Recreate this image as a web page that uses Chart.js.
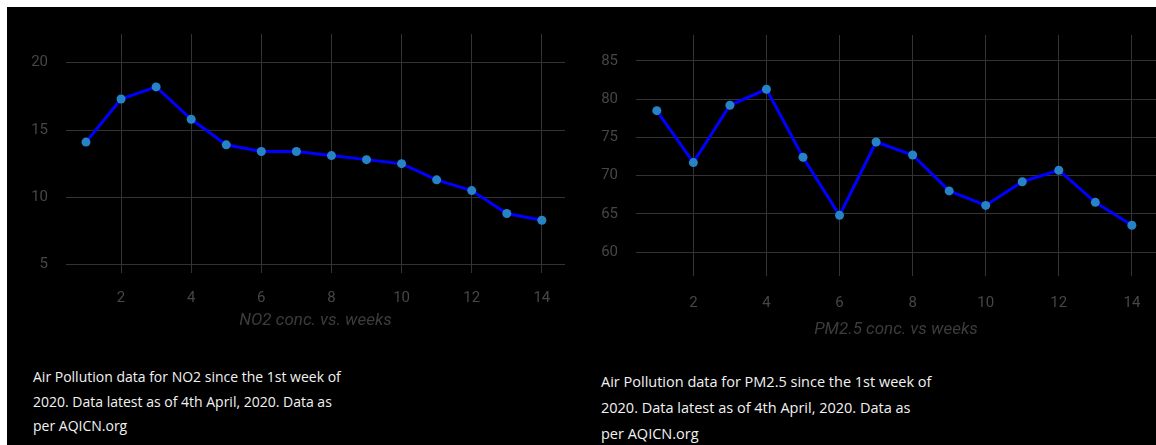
<!DOCTYPE html>
<html>
<head>
<meta charset="utf-8">
<script src="https://cdn.jsdelivr.net/npm/chart.js@4"></script>
<style>
    html, body { margin: 0; padding: 0; background: #fff; }
    body { width: 1156px; height: 445px; overflow: hidden; position: relative; }
    .panel { position: absolute; left: 7px; top: 7px; width: 1149px; height: 438px; background: #000; }
    .chart-box { position: absolute; }
    .note { position: absolute; color: #f2f2f2; font-family: "Open Sans", sans-serif; margin: 0; }
</style>
</head>
<body>
<div class="panel"></div>
<div class="chart-box" style="left: 7px; top: 7px; width: 569px; height: 330px;"><canvas id="no2Chart"></canvas></div>
<div class="chart-box" style="left: 576px; top: 7px; width: 580px; height: 339px;"><canvas id="pmChart"></canvas></div>
<p class="note" style="left: 33px; top: 365px; width: 312px; font-size: 14px; line-height: 24.5px;">Air Pollution data for NO2 since the 1st week of 2020. Data latest as of 4th April, 2020. Data as per AQICN.org</p>
<p class="note" style="left: 601px; top: 369px; width: 333px; font-size: 14.5px; line-height: 26px;">Air Pollution data for PM2.5 since the 1st week of 2020. Data latest as of 4th April, 2020. Data as per AQICN.org</p>
<script>
    // weekly averages
    const weeks = [1, 2, 3, 4, 5, 6, 7, 8, 9, 10, 11, 12, 13, 14];
    const no2Values = [14.1, 17.3, 18.2, 15.8, 13.9, 13.4, 13.4, 13.1, 12.8, 12.5, 11.3, 10.5, 8.8, 8.3];
    const pmValues = [78.5, 71.7, 79.2, 81.3, 72.4, 64.8, 74.4, 72.7, 68.0, 66.1, 69.2, 70.7, 66.5, 63.5];

    const weekTicks = [2, 4, 6, 8, 10, 12, 14];
    const no2Ticks = [5, 10, 15, 20];
    const pmTicks = [60, 65, 70, 75, 80, 85];

    const makeChart = (id, values, yTicks, yMin, yMax, title, opts) => {
        return new Chart(document.getElementById(id), {
            type: 'line',
            data: {
                datasets: [{
                    data: weeks.map((w, i) => ({ x: w, y: values[i] })),
                    borderColor: '#0000ff',
                    borderWidth: 3,
                    pointBackgroundColor: '#2683c6',
                    pointBorderWidth: 0,
                    pointRadius: 4.5,
                    tension: 0
                }]
            },
            options: {
                responsive: true,
                maintainAspectRatio: false,
                animation: false,
                layout: {
                    autoPadding: false,
                    padding: { top: opts.top, right: opts.right, left: 0, bottom: 0 }
                },
                plugins: { legend: { display: false }, tooltip: { enabled: false } },
                scales: {
                    x: {
                        type: 'linear',
                        min: 0.43,
                        max: 14.66,
                        afterBuildTicks: s => { s.ticks = weekTicks.map(v => ({ value: v })); },
                        afterFit: s => {
                            s.height = opts.xHeight;
                            // don't let the "14" label push the plot in from the edge
                            s.paddingLeft = 0;
                            s.paddingRight = 0;
                        },
                        grid: { color: '#333', drawTicks: false },
                        border: { display: false },
                        ticks: { color: '#464646', padding: opts.xPad, font: { family: 'Roboto', size: 15 } },
                        title: {
                            display: true,
                            text: title,
                            color: '#3c3c3c',
                            padding: { top: 0, bottom: 6 },
                            font: { family: 'Roboto', size: 17, style: 'italic' }
                        }
                    },
                    y: {
                        min: yMin,
                        max: yMax,
                        afterBuildTicks: s => { s.ticks = yTicks.map(v => ({ value: v })); },
                        afterFit: s => { s.width = opts.yWidth; },
                        grid: { color: '#333', drawTicks: false },
                        border: { display: false },
                        ticks: { color: '#464646', padding: 18, font: { family: 'Roboto', size: 15 } }
                    }
                }
            }
        });
    };

    makeChart('no2Chart', no2Values, no2Ticks, 4.38, 22.13, 'NO2 conc. vs. weeks',
        { top: 27, right: 11, yWidth: 59, xHeight: 64, xPad: 16 });
    makeChart('pmChart', pmValues, pmTicks, 56.86, 88.4, 'PM2.5 conc. vs weeks',
        { top: 28, right: 0, yWidth: 60, xHeight: 70, xPad: 18 });
</script>
</body>
</html>
